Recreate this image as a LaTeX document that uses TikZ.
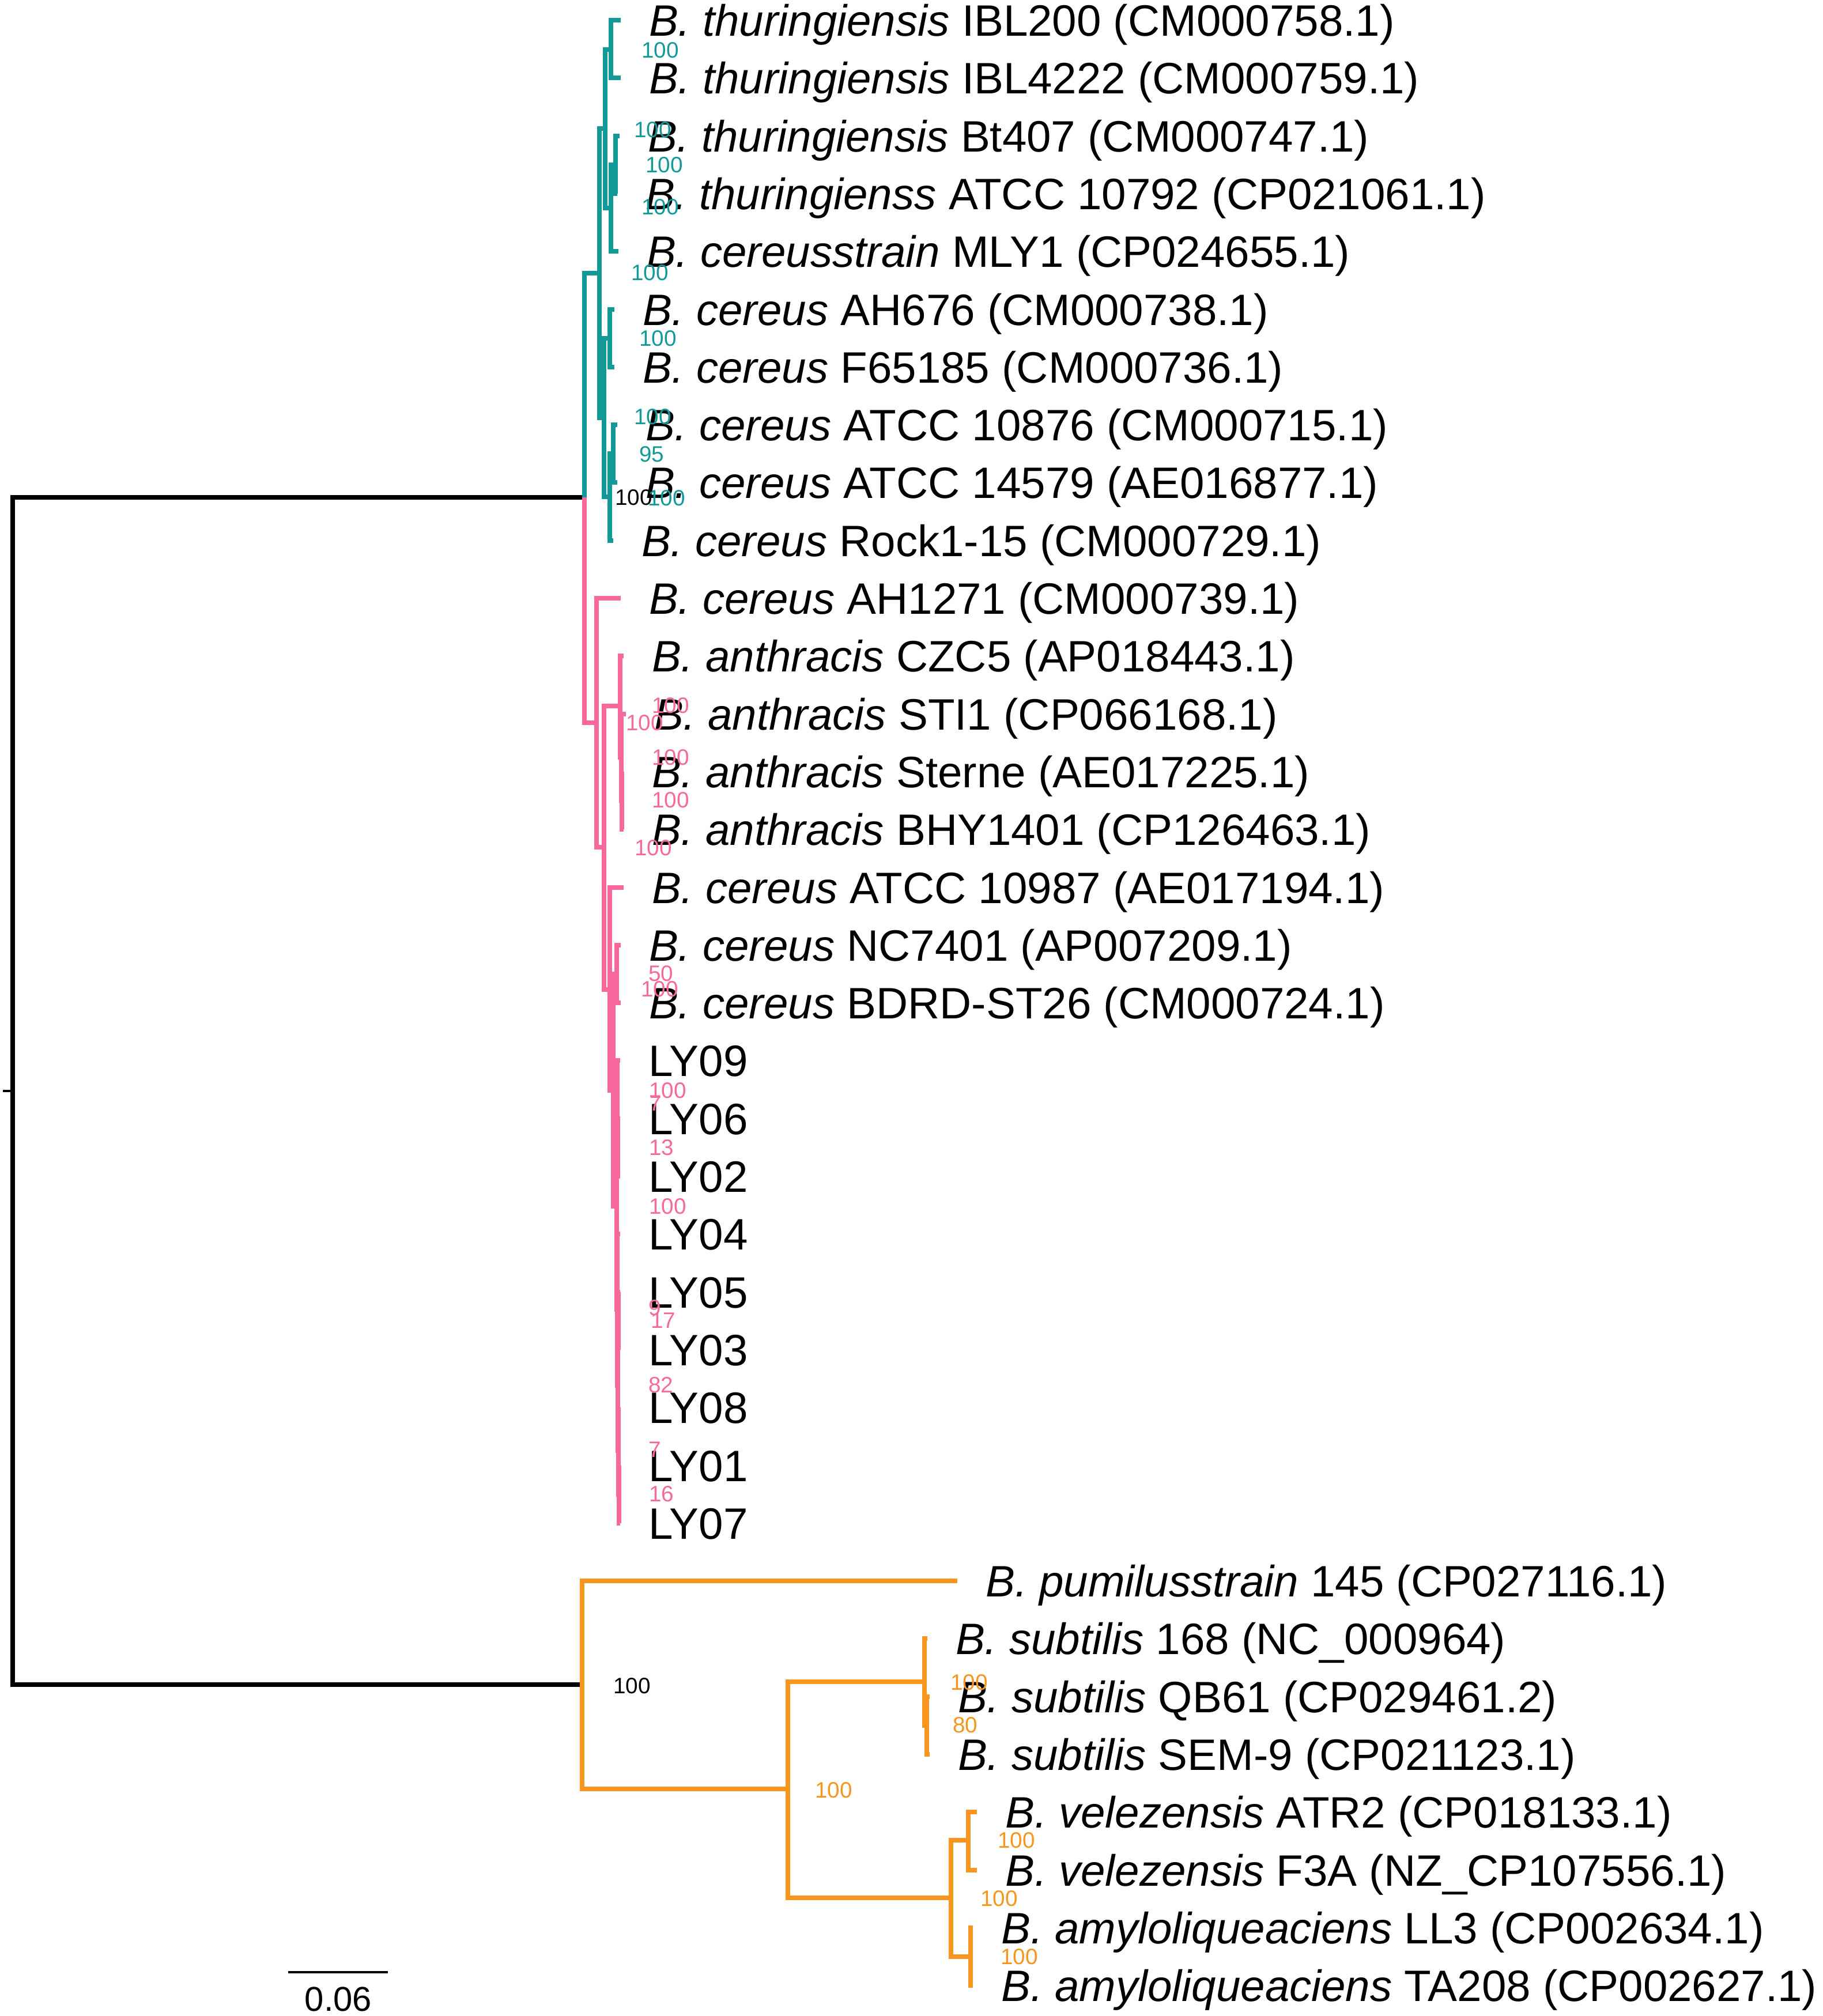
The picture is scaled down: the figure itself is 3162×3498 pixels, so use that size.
\documentclass[tikz,border=0pt]{standalone}
\usepackage{fontspec}
\setmainfont{Liberation Sans}
\usetikzlibrary{positioning}
\definecolor{bcteal}{RGB}{20,153,153}
\definecolor{bcpink}{RGB}{247,104,156}
\definecolor{bcorange}{RGB}{247,150,30}
\def\leafsize{\fontsize{21.7}{26}\selectfont}
\def\bootsize{\fontsize{11}{13}\selectfont}

\begin{document}
\begin{tikzpicture}[x=0.01cm, y=-0.01cm, line width=2.3pt,
  leaf/.style={anchor=west, inner sep=0pt, text height=15.5pt, text depth=0pt, font=\leafsize},
  boot/.style={anchor=west, inner sep=0pt, text height=7.9pt, text depth=0pt, font=\bootsize}]
\useasboundingbox (0,0) rectangle (3162,3498);

\coordinate (stub) at (5,1893);
\coordinate (root) at (22,1893);
\coordinate (top) at (1014,863);
\coordinate (or0) at (1010,2923);

\coordinate (cy0) at (1040,474);
\coordinate (cy1) at (1050,223);
\coordinate (cy2) at (1060,86);
\coordinate (cy3) at (1060,361);
\coordinate (cy4) at (1068,286);
\coordinate (cy5) at (1048,725);
\coordinate (cy6) at (1058,587);
\coordinate (cy7) at (1058,862);
\coordinate (cy8) at (1064,787);

\coordinate (pk1) at (1035,1254);
\coordinate (pk2) at (1048,1470);
\coordinate (pk3) at (1076,1225);
\coordinate (pk4) at (1078,1314);
\coordinate (pk5) at (1079,1389);
\coordinate (pk6) at (1058,1717);
\coordinate (pk7) at (1064,1892);
\coordinate (pk8) at (1070,1690);
\coordinate (pk9) at (1070,2093);
\coordinate (pk10) at (1071,1915);
\coordinate (pk11) at (1072,1991);
\coordinate (pk12) at (1071,2272);
\coordinate (pk13) at (1072,2404);
\coordinate (pk14) at (1073,2292);
\coordinate (pk15) at (1073,2517);
\coordinate (pk16) at (1074,2593);

\coordinate (or1) at (1367,3104);
\coordinate (or2) at (1604,2918);
\coordinate (or3) at (1608,2994);
\coordinate (or4) at (1650,3293);
\coordinate (or5) at (1680,3193);
\coordinate (or6) at (1684,3395);

\coordinate (t1) at (1077,35);
\coordinate (t2) at (1077,135);
\coordinate (t3) at (1075,236);
\coordinate (t4) at (1071,336);
\coordinate (t5) at (1073,436);
\coordinate (t6) at (1066,537);
\coordinate (t7) at (1066,637);
\coordinate (t8) at (1071,737);
\coordinate (t9) at (1071,837);
\coordinate (t10) at (1064,938);
\coordinate (t11) at (1077,1038);
\coordinate (t12) at (1082,1138);
\coordinate (t13) at (1086,1239);
\coordinate (t14) at (1082,1339);
\coordinate (t15) at (1082,1439);
\coordinate (t16) at (1082,1540);
\coordinate (t17) at (1077,1640);
\coordinate (t18) at (1077,1740);
\coordinate (t19) at (1076,1840);
\coordinate (t20) at (1076,1941);
\coordinate (t21) at (1076,2041);
\coordinate (t22) at (1076,2141);
\coordinate (t23) at (1076,2242);
\coordinate (t24) at (1076,2342);
\coordinate (t25) at (1076,2442);
\coordinate (t26) at (1076,2543);
\coordinate (t27) at (1076,2643);
\coordinate (t28) at (1661,2743);
\coordinate (t29) at (1609,2843);
\coordinate (t30) at (1613,2944);
\coordinate (t31) at (1613,3044);
\coordinate (t32) at (1695,3144);
\coordinate (t33) at (1695,3245);
\coordinate (t34) at (1688,3345);
\coordinate (t35) at (1688,3445);

\draw[line width=1.2pt] (stub) -- (root);
\draw (root) |- (top) (root) |- (or0);

\draw[bcteal] (top) |- (cy0) (cy0) |- (cy1) (cy0) |- (cy5)
  (cy1) |- (cy2) (cy1) |- (cy3) (cy2) |- (t1) (cy2) |- (t2)
  (cy3) |- (cy4) (cy3) |- (t5) (cy4) |- (t3) (cy4) |- (t4)
  (cy5) |- (cy6) (cy5) |- (cy7) (cy6) |- (t6) (cy6) |- (t7)
  (cy7) |- (cy8) (cy7) |- (t10) (cy8) |- (t8) (cy8) |- (t9);

\draw[bcpink] (top) |- (pk1) (pk1) |- (t11) (pk1) |- (pk2)
  (pk2) |- (pk3) (pk2) |- (pk6) (pk3) |- (t12) (pk3) |- (pk4)
  (pk4) |- (t13) (pk4) |- (pk5) (pk5) |- (t14) (pk5) |- (t15)
  (pk6) |- (t16) (pk6) |- (pk7) (pk7) |- (pk8) (pk7) |- (pk9)
  (pk8) |- (t17) (pk8) |- (t18) (pk9) |- (pk10) (pk9) |- (pk12)
  (pk10) |- (t19) (pk10) |- (pk11) (pk11) |- (t20) (pk11) |- (t21)
  (pk12) |- (t22) (pk12) |- (pk13) (pk13) |- (pk14) (pk13) |- (pk15)
  (pk14) |- (t23) (pk14) |- (t24) (pk15) |- (t25) (pk15) |- (pk16)
  (pk16) |- (t26) (pk16) |- (t27);

\draw[bcorange] (or0) |- (t28) (or0) |- (or1) (or1) |- (or2) (or1) |- (or4)
  (or2) |- (t29) (or2) |- (or3) (or3) |- (t30) (or3) |- (t31)
  (or4) |- (or5) (or4) |- (or6) (or5) |- (t32) (or5) |- (t33)
  (or6) |- (t34) (or6) |- (t35);

\node[leaf, right=4.5mm of t1] (n1) {\textit{B. thuringiensis} IBL200 (CM000758.1)};
\node[leaf, right=4.5mm of t2] (n2) {\textit{B. thuringiensis} IBL4222 (CM000759.1)};
\node[leaf, right=4.5mm of t3] (n3) {\textit{B. thuringiensis} Bt407 (CM000747.1)};
\node[leaf, right=4.5mm of t4] (n4) {\textit{B. thuringienss} ATCC 10792 (CP021061.1)};
\node[leaf, right=4.5mm of t5] (n5) {\textit{B. cereusstrain} MLY1 (CP024655.1)};
\node[leaf, right=4.5mm of t6] (n6) {\textit{B. cereus} AH676 (CM000738.1)};
\node[leaf, right=4.5mm of t7] (n7) {\textit{B. cereus} F65185 (CM000736.1)};
\node[leaf, right=4.5mm of t8] (n8) {\textit{B. cereus} ATCC 10876 (CM000715.1)};
\node[leaf, right=4.5mm of t9] (n9) {\textit{B. cereus} ATCC 14579 (AE016877.1)};
\node[leaf, right=4.5mm of t10] (n10) {\textit{B. cereus} Rock1-15 (CM000729.1)};
\node[leaf, right=4.5mm of t11] (n11) {\textit{B. cereus} AH1271 (CM000739.1)};
\node[leaf, right=4.5mm of t12] (n12) {\textit{B. anthracis} CZC5 (AP018443.1)};
\node[leaf, right=4.5mm of t13] (n13) {\textit{B. anthracis} STI1 (CP066168.1)};
\node[leaf, right=4.5mm of t14] (n14) {\textit{B. anthracis} Sterne (AE017225.1)};
\node[leaf, right=4.5mm of t15] (n15) {\textit{B. anthracis} BHY1401 (CP126463.1)};
\node[leaf, right=4.5mm of t16] (n16) {\textit{B. cereus} ATCC 10987 (AE017194.1)};
\node[leaf, right=4.5mm of t17] (n17) {\textit{B. cereus} NC7401 (AP007209.1)};
\node[leaf, right=4.5mm of t18] (n18) {\textit{B. cereus} BDRD-ST26 (CM000724.1)};
\node[leaf, right=4.5mm of t19] (n19) {LY09};
\node[leaf, right=4.5mm of t20] (n20) {LY06};
\node[leaf, right=4.5mm of t21] (n21) {LY02};
\node[leaf, right=4.5mm of t22] (n22) {LY04};
\node[leaf, right=4.5mm of t23] (n23) {LY05};
\node[leaf, right=4.5mm of t24] (n24) {LY03};
\node[leaf, right=4.5mm of t25] (n25) {LY08};
\node[leaf, right=4.5mm of t26] (n26) {LY01};
\node[leaf, right=4.5mm of t27] (n27) {LY07};
\node[leaf, right=4.5mm of t28] (n28) {\textit{B. pumilusstrain} 145 (CP027116.1)};
\node[leaf, right=4.5mm of t29] (n29) {\textit{B. subtilis} 168 (NC\_000964)};
\node[leaf, right=4.5mm of t30] (n30) {\textit{B. subtilis} QB61 (CP029461.2)};
\node[leaf, right=4.5mm of t31] (n31) {\textit{B. subtilis} SEM-9 (CP021123.1)};
\node[leaf, right=4.5mm of t32] (n32) {\textit{B. velezensis} ATR2 (CP018133.1)};
\node[leaf, right=4.5mm of t33] (n33) {\textit{B. velezensis} F3A (NZ\_CP107556.1)};
\node[leaf, right=4.5mm of t34] (n34) {\textit{B. amyloliqueaciens} LL3 (CP002634.1)};
\node[leaf, right=4.5mm of t35] (n35) {\textit{B. amyloliqueaciens} TA208 (CP002627.1)};

\node[boot] (bk1) at (1063,863) {100};
\node[boot] (bk2) at (1060,2925) {100};

\node[boot, text=bcteal] (bc1) at (1109,87) {100};
\node[boot, text=bcteal] (bc2) at (1096,225) {100};
\node[boot, text=bcteal] (bc3) at (1116,286) {100};
\node[boot, text=bcteal] (bc4) at (1109,359) {100};
\node[boot, text=bcteal] (bc5) at (1091,473) {100};
\node[boot, text=bcteal] (bc6) at (1105,587) {100};
\node[boot, text=bcteal] (bc7) at (1096,723) {100};
\node[boot, text=bcteal] (bc8) at (1105,788) {95};
\node[boot, text=bcteal] (bc9) at (1120,864) {100};

\node[boot, text=bcpink] (bp1) at (1127,1224) {100};
\node[boot, text=bcpink] (bp2) at (1082,1254) {100};
\node[boot, text=bcpink] (bp3) at (1127,1314) {100};
\node[boot, text=bcpink] (bp4) at (1127,1388) {100};
\node[boot, text=bcpink] (bp5) at (1097,1471) {100};
\node[boot, text=bcpink] (bp6) at (1121,1689) {50};
\node[boot, text=bcpink] (bp7) at (1108,1716) {100};
\node[boot, text=bcpink] (bp8) at (1122,1892) {100};
\node[boot, text=bcpink] (bp9) at (1122,1914) {7};
\node[boot, text=bcpink] (bp10) at (1122,1991) {13};
\node[boot, text=bcpink] (bp11) at (1122,2093) {100};
\node[boot, text=bcpink] (bp12) at (1121,2269) {9};
\node[boot, text=bcpink] (bp13) at (1125,2291) {17};
\node[boot, text=bcpink] (bp14) at (1121,2403) {82};
\node[boot, text=bcpink] (bp15) at (1121,2515) {7};
\node[boot, text=bcpink] (bp16) at (1122,2592) {16};

\node[boot, text=bcorange] (bo1) at (1645,2919) {100};
\node[boot, text=bcorange] (bo2) at (1649,2993) {80};
\node[boot, text=bcorange] (bo3) at (1410,3106) {100};
\node[boot, text=bcorange] (bo4) at (1727,3193) {100};
\node[boot, text=bcorange] (bo5) at (1697,3294) {100};
\node[boot, text=bcorange] (bo6) at (1732,3395) {100};

\coordinate (sb1) at (500,3422);
\coordinate (sb2) at (673,3422);
\draw[line width=1.1pt] (sb1) -- (sb2);
\node[inner sep=0pt, text height=12.2pt, text depth=0pt, font=\fontsize{17}{20}\selectfont] (sbl) at (587,3468) {0.06};
\end{tikzpicture}
\end{document}
